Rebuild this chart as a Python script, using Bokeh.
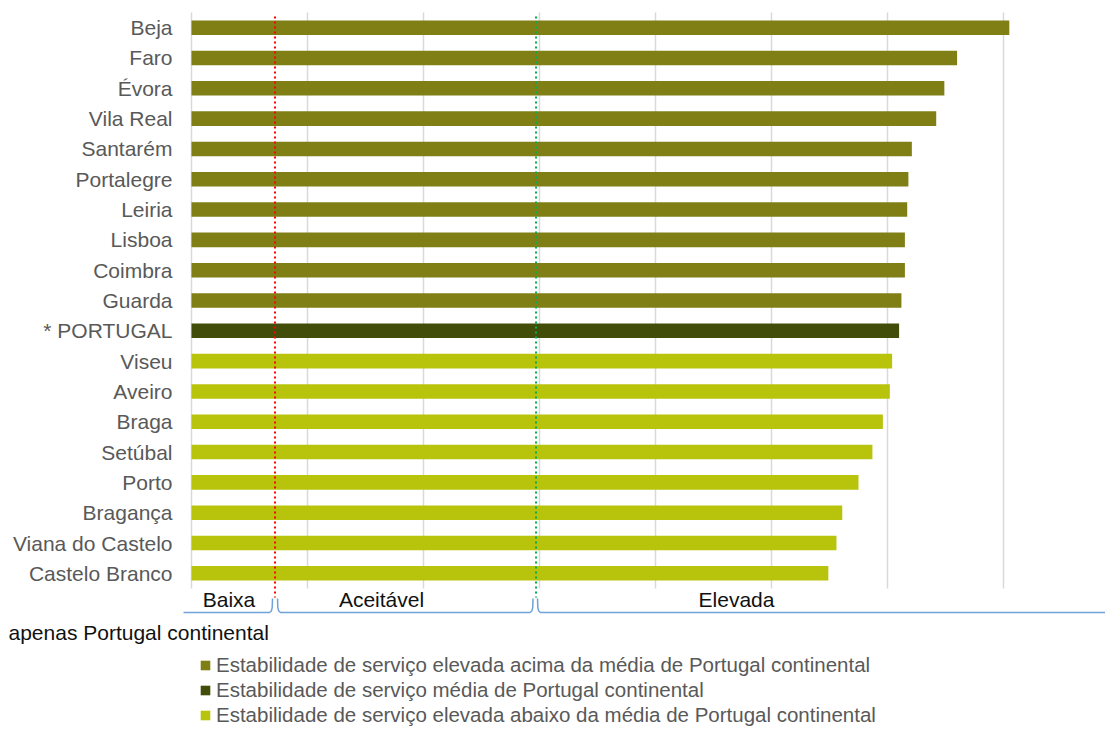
from bokeh.plotting import figure
from bokeh.models import (Range1d, Legend, LegendItem, ColumnDataSource, CDSView, GroupFilter)
from bokeh.core.properties import value
from bokeh.embed import file_html
from bokeh.resources import INLINE

# ---------------- data ----------------
categorias = ["Beja", "Faro", "Évora", "Vila Real", "Santarém", "Portalegre", "Leiria",
              "Lisboa", "Coimbra", "Guarda", "* PORTUGAL", "Viseu", "Aveiro", "Braga",
              "Setúbal", "Porto", "Bragança", "Viana do Castelo", "Castelo Branco"]
valores = [7.05, 6.60, 6.49, 6.42, 6.21, 6.18, 6.17, 6.15, 6.15, 6.12, 6.10,
           6.04, 6.02, 5.96, 5.87, 5.75, 5.61, 5.56, 5.49]
grupos = ["acima", "acima", "acima", "acima", "acima", "acima", "acima", "acima", "acima",
          "acima", "media", "abaixo", "abaixo", "abaixo", "abaixo", "abaixo", "abaixo",
          "abaixo", "abaixo"]
grupo_ids = ["acima", "media", "abaixo"]
grupo_nomes = ["Estabilidade de serviço elevada acima da média de Portugal continental",
               "Estabilidade de serviço média de Portugal continental",
               "Estabilidade de serviço elevada abaixo da média de Portugal continental"]
grelha = [0, 1, 2, 3, 4, 5, 6, 7]
limites = [0.72, 2.97]          # Baixa | Aceitável | Elevada
classes = ["Baixa", "Aceitável", "Elevada"]
nota = "apenas Portugal continental"

# ---------------- style / geometry ----------------
cores = ["#7F7F16", "#414D09", "#B8C30B"]
cores_limites = ["#FF0000", "#00B050"]
FONT = "Liberation Sans"
W, H = 1105, 728
X0 = 191            # page x of value 0
PXU = 116.0         # pixels per value unit
TOP = 12            # page y of top of first row band
ROW = 576 / 19      # row band height in px
N = len(categorias)

def py(page_y):     # page y (px) -> row units
    return (page_y - TOP) / ROW - 0.5

def px(page_x):     # page x (px) -> value units
    return (page_x - X0) / PXU

posicoes = list(range(N))
src = ColumnDataSource(dict(pos=posicoes, val=valores, grupo=grupos, cat=categorias))

p = figure(width=W, height=H, output_backend="svg", toolbar_location=None,
           x_range=Range1d(px(0), px(W)), y_range=Range1d(py(H), py(0)),
           x_axis_location=None, y_axis_location=None,
           min_border_left=0, min_border_right=0, min_border_top=0, min_border_bottom=0)
p.outline_line_color = None
p.grid.visible = False

# vertical grid lines, only across the bar area
p.segment(x0=grelha, x1=grelha, y0=-0.5, y1=N - 0.5, line_color="#D9D9D9", line_width=1.5)

renderers = []
for g, c in zip(grupo_ids, cores):
    r = p.hbar(y="pos", left=0, right="val", height=0.48, source=src,
               view=CDSView(filter=GroupFilter(column_name="grupo", group=g)),
               fill_color=c, line_color=None)
    renderers.append(r)

# category labels
p.text(x=px(172), y="pos", text="cat", source=src, text_align="right",
       text_baseline="middle", text_font=value(FONT), text_font_size="21px",
       text_color="#595959")

# class thresholds (dotted)
p.segment(x0=limites, x1=limites, y0=py(16), y1=py(597), line_color=cores_limites,
          line_width=2, line_dash="2 3")

# braces under the chart
def hook(x, side, lo, hi):
    d = side / PXU
    return [(x, hi), (x - 0.3 * d, lo - 0.45 * (lo - hi) * 0.2 - 0.12),
            (x - 1.2 * d, lo - 0.05), (x - 3 * d, lo)]

lo, hi = py(612), py(598)
spans = [(px(183), limites[0] - 2.5 / PXU, False, True),
         (limites[0] + 2.5 / PXU, limites[1] - 3 / PXU, True, True),
         (limites[1] + 1.5 / PXU, px(W + 5), True, False)]
xs, ys = [], []
for a, b, hl, hr in spans:
    pts = []
    pts += hook(a, -1, lo, hi) if hl else [(a, lo)]
    pts += hook(b, +1, lo, hi)[::-1] if hr else [(b, lo)]
    xs.append([pt[0] for pt in pts])
    ys.append([pt[1] for pt in pts])
p.multi_line(xs=xs, ys=ys, line_color="#6FA3D8", line_width=1.5)

label_x = [px(228.5), px(381), px(736)]
p.text(x=label_x, y=[py(599)] * 3, text=classes, text_align="center",
       text_baseline="middle", text_font=value(FONT), text_font_size="21px",
       text_color="#111111")

# footnote
p.text(x=[px(8)], y=[py(632)], text=[nota], text_align="left", text_baseline="middle",
       text_font=value(FONT), text_font_size="21px", text_color="#111111")

leg = Legend(items=[LegendItem(label=n, renderers=[r]) for n, r in zip(grupo_nomes, renderers)],
             location=(199, 1), orientation="vertical", padding=0, margin=0, spacing=0,
             label_height=25, glyph_height=12, glyph_width=12, label_standoff=5,
             border_line_color=None, background_fill_alpha=0,
             label_text_font=FONT, label_text_font_size="20.5px", label_text_color="#595959")
p.add_layout(leg)

open("out.html", "w").write(file_html(p, INLINE))
